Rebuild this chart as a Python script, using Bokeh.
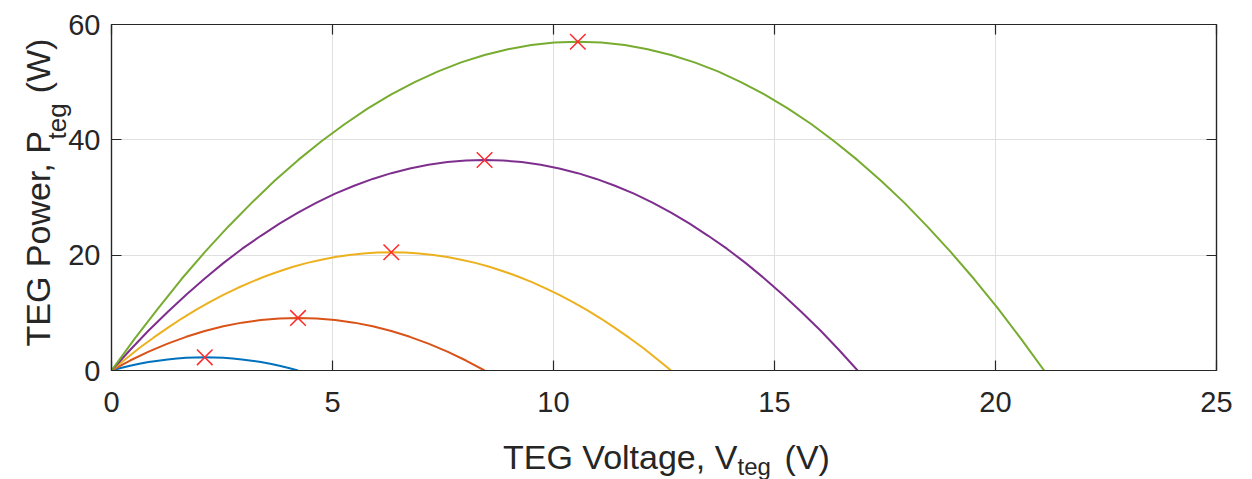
import math
from bokeh.plotting import figure
from bokeh.models import Label, LinearAxis, FixedTicker, Range1d
from bokeh.embed import file_html
from bokeh.resources import INLINE

# ---- data ----
v_blue = [0, 0.21, 0.42, 0.63, 0.84, 1.06, 1.27, 1.48, 1.69, 1.90, 2.11, 2.32, 2.53, 2.74, 2.95, 3.17, 3.38, 3.59, 3.80, 4.01, 4.22]
p_blue = [0, 0.43, 0.82, 1.16, 1.46, 1.71, 1.92, 2.07, 2.19, 2.26, 2.28, 2.26, 2.19, 2.07, 1.92, 1.71, 1.46, 1.16, 0.82, 0.43, 0]

v_orange = [0, 0.42, 0.84, 1.27, 1.69, 2.11, 2.53, 2.95, 3.38, 3.80, 4.22, 4.64, 5.06, 5.49, 5.91, 6.33, 6.75, 7.17, 7.60, 8.02, 8.44]
p_orange = [0, 1.73, 3.28, 4.65, 5.84, 6.84, 7.66, 8.30, 8.76, 9.03, 9.12, 9.03, 8.76, 8.30, 7.66, 6.84, 5.84, 4.65, 3.28, 1.73, 0]

v_yellow = [0, 0.32, 0.63, 0.95, 1.27, 1.58, 1.90, 2.22, 2.53, 2.85, 3.17, 3.48, 3.80, 4.11, 4.43, 4.75, 5.06, 5.38, 5.70, 6.01,
            6.33, 6.65, 6.96, 7.28, 7.60, 7.91, 8.23, 8.55, 8.86, 9.18, 9.50, 9.81, 10.13, 10.44, 10.76, 11.08, 11.39, 11.71, 12.03, 12.34, 12.66]
p_yellow = [0, 2.00, 3.90, 5.69, 7.38, 8.97, 10.46, 11.84, 13.12, 14.30, 15.38, 16.35, 17.22, 17.99, 18.66, 19.22, 19.68, 20.04, 20.30, 20.45,
            20.5, 20.45, 20.30, 20.04, 19.68, 19.22, 18.66, 17.99, 17.22, 16.35, 15.38, 14.30, 13.12, 11.84, 10.46, 8.97, 7.38, 5.69, 3.90, 2.00, 0]

v_purple = [0, 0.42, 0.84, 1.27, 1.69, 2.11, 2.53, 2.95, 3.38, 3.80, 4.22, 4.64, 5.06, 5.49, 5.91, 6.33, 6.75, 7.17, 7.60, 8.02,
            8.44, 8.86, 9.28, 9.71, 10.13, 10.55, 10.97, 11.39, 11.82, 12.24, 12.66, 13.08, 13.50, 13.93, 14.35, 14.77, 15.19, 15.61, 16.04, 16.46, 16.88]
p_purple = [0, 3.56, 6.94, 10.13, 13.14, 15.97, 18.62, 21.08, 23.36, 25.46, 27.38, 29.11, 30.66, 32.03, 33.22, 34.22, 35.04, 35.68, 36.14, 36.41,
            36.5, 36.41, 36.14, 35.68, 35.04, 34.22, 33.22, 32.03, 30.66, 29.11, 27.38, 25.46, 23.36, 21.08, 18.62, 15.97, 13.14, 10.13, 6.94, 3.56, 0]

v_green = [0, 0.53, 1.06, 1.58, 2.11, 2.64, 3.17, 3.69, 4.22, 4.75, 5.28, 5.80, 6.33, 6.86, 7.39, 7.91, 8.44, 8.97, 9.50, 10.02,
           10.55, 11.08, 11.61, 12.13, 12.66, 13.19, 13.72, 14.24, 14.77, 15.30, 15.83, 16.35, 16.88, 17.41, 17.94, 18.46, 18.99, 19.52, 20.05, 20.57, 21.10]
p_green = [0, 5.56, 10.83, 15.82, 20.52, 24.94, 29.07, 32.92, 36.48, 39.76, 42.75, 45.46, 47.88, 50.02, 51.87, 53.44, 54.72, 55.72, 56.43, 56.86,
           57.0, 56.86, 56.43, 55.72, 54.72, 53.44, 51.87, 50.02, 47.88, 45.46, 42.75, 39.76, 36.48, 32.92, 29.07, 24.94, 20.52, 15.82, 10.83, 5.56, 0]

mpp_v = [2.11, 4.22, 6.33, 8.44, 10.55]
mpp_p = [2.28, 9.12, 20.5, 36.5, 57.0]

x_ticks = [0, 5, 10, 15, 20, 25]
y_ticks = [0, 20, 40, 60]

series = [
    (v_blue, p_blue, "#0072BD"),
    (v_orange, p_orange, "#D95319"),
    (v_yellow, p_yellow, "#EDB120"),
    (v_purple, p_purple, "#7E2F8E"),
    (v_green, p_green, "#77AC30"),
]

TXT = "#262626"
FONT = "Liberation Sans"
NB = "\u00a0"

p = figure(width=1252, height=479, output_backend="svg", toolbar_location=None,
           x_range=Range1d(0, 25), y_range=Range1d(0, 60),
           x_axis_location=None, y_axis_location=None,
           min_border_left=111, min_border_right=36, min_border_top=24, min_border_bottom=109)
p.background_fill_color = "white"
p.border_fill_color = "white"
p.outline_line_color = TXT
p.outline_line_width = 1.2

def style_axis(ax, ticks, show_labels):
    ax.ticker = FixedTicker(ticks=ticks)
    ax.axis_line_color = TXT
    ax.axis_line_width = 1.2
    ax.major_tick_line_color = TXT
    ax.major_tick_line_width = 1.2
    ax.major_tick_in = 10
    ax.major_tick_out = 0
    ax.minor_tick_line_color = None
    ax.major_label_text_color = TXT
    ax.major_label_text_font = FONT
    ax.axis_label_standoff = 0
    if show_labels:
        ax.major_label_text_font_size = "29px"
    else:
        ax.major_label_text_font_size = "0px"
        ax.major_label_standoff = 0
        ax.major_label_overrides = {t: "" for t in ticks}

xb = LinearAxis()
style_axis(xb, x_ticks, True)
xb.major_label_standoff = 21
p.add_layout(xb, "below")
yl = LinearAxis()
style_axis(yl, y_ticks, True)
yl.major_label_standoff = 11
p.add_layout(yl, "left")
xa = LinearAxis()
style_axis(xa, x_ticks, False)
p.add_layout(xa, "above")
yr = LinearAxis()
style_axis(yr, y_ticks, False)
p.add_layout(yr, "right")

p.xgrid.ticker = FixedTicker(ticks=x_ticks)
p.ygrid.ticker = FixedTicker(ticks=y_ticks)
for g in (p.xgrid, p.ygrid):
    g.grid_line_color = "#dfdfdf"
    g.grid_line_width = 1

for v, pw, c in series:
    p.line(v, pw, line_color=c, line_width=2)

p.scatter(mpp_v, mpp_p, marker="x", size=22, line_color="#ff2a2a", line_width=1.5)

def lab(x, y, text, size, angle=0.0, place="below"):
    p.add_layout(Label(x=x, y=y, x_units="canvas", y_units="canvas", text=text,
                       text_font=FONT, text_font_size=size, text_color=TXT,
                       text_align="left", text_baseline="alphabetic", angle=angle), place)

# x-axis label: "TEG Voltage, V_teg (V)" (canvas pixel positions)
lab(502.5, 456, "TEG Voltage, V" + NB * 5 + "(V)", "34px")
lab(737, 466, "teg", "24px")
# y-axis label: "TEG Power, P_teg (W)"
lab(37.5, 346, "TEG Power, P" + NB * 4 + "(W)", "34px", math.pi / 2, "left")
lab(56, 139, "teg", "26px", math.pi / 2, "right")

open("out.html", "w").write(file_html(p, INLINE))
